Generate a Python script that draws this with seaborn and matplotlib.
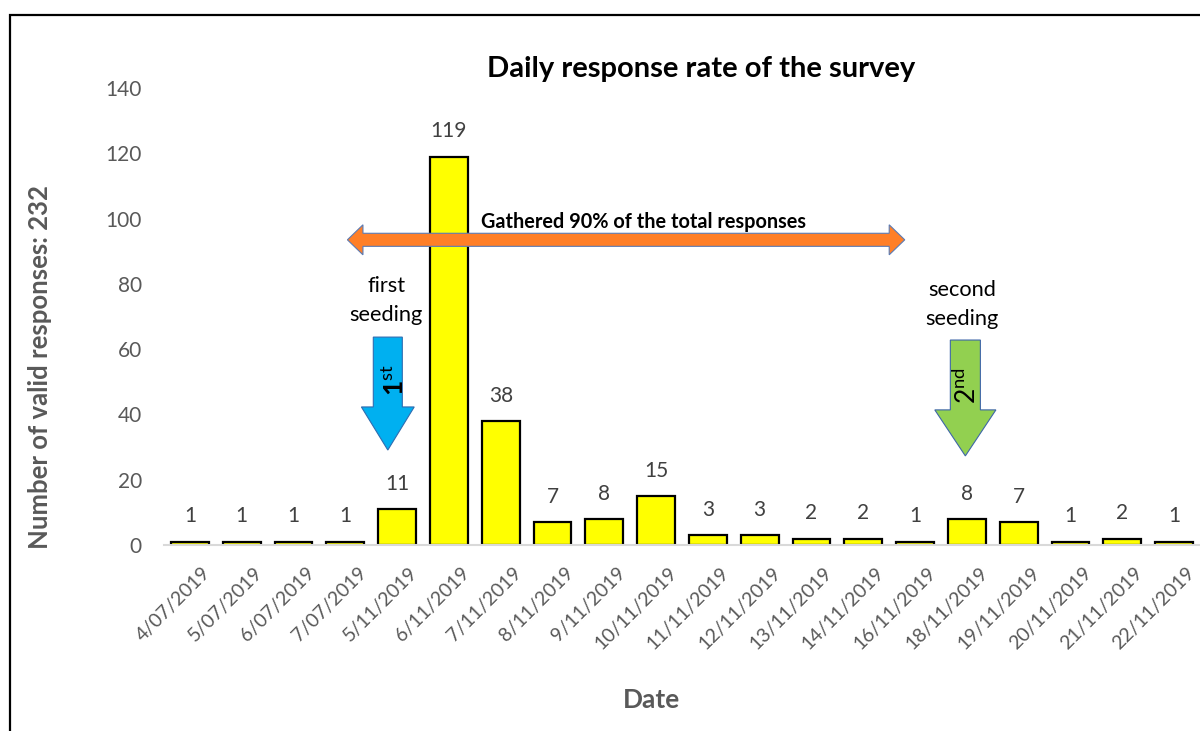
import matplotlib
matplotlib.use("Agg")
import matplotlib.pyplot as plt
import matplotlib.transforms as mtransforms
from matplotlib.patches import Polygon, FancyArrow, Rectangle
import seaborn as sns
import pandas as pd

# Survey responses per day
dates = ["4/07/2019", "5/07/2019", "6/07/2019", "7/07/2019", "5/11/2019",
         "6/11/2019", "7/11/2019", "8/11/2019", "9/11/2019", "10/11/2019",
         "11/11/2019", "12/11/2019", "13/11/2019", "14/11/2019", "16/11/2019",
         "18/11/2019", "19/11/2019", "20/11/2019", "21/11/2019", "22/11/2019"]
responses = [1, 1, 1, 1, 11, 119, 38, 7, 8, 15, 3, 3, 2, 2, 1, 8, 7, 1, 2, 1]
y_ticks = [0, 20, 40, 60, 80, 100, 120, 140]

df = pd.DataFrame({"Date": dates, "Responses": responses})

sns.set_theme(style="white")
plt.rcParams["font.family"] = ["Lato", "DejaVu Sans"]
plt.rcParams["mathtext.fontset"] = "custom"
plt.rcParams["mathtext.rm"] = "Lato"
plt.rcParams["mathtext.bf"] = "Lato:bold"

GREY = "#595959"

fig = plt.figure(figsize=(12, 7.31), dpi=100)
ax = fig.add_axes([0.1367, 0.2544, 0.8633, 0.6252])

sns.barplot(data=df, x="Date", y="Responses", ax=ax, color="#FFFF00",
            saturation=1, edgecolor="black", linewidth=1.6, width=0.73)

ax.set_ylim(0, 140)
ax.set_xlim(-0.5, len(dates) - 0.5)
ax.set_yticks(y_ticks)
ax.tick_params(axis="y", labelsize=15, labelcolor=GREY, length=0, pad=16)
ax.tick_params(axis="x", labelsize=14, labelcolor=GREY, length=0, pad=15)
shift = mtransforms.ScaledTranslation(0.12, 0.02, fig.dpi_scale_trans)
for lab in ax.get_xticklabels():
    lab.set_rotation(45)
    lab.set_ha("right")
    lab.set_va("top")
    lab.set_rotation_mode("anchor")
    lab.set_transform(lab.get_transform() + shift)

for side in ["top", "right", "left"]:
    ax.spines[side].set_visible(False)
ax.spines["bottom"].set_color("#D9D9D9")
ax.spines["bottom"].set_linewidth(1.5)

ax.bar_label(ax.containers[0], labels=[str(v) for v in responses],
             padding=11, fontsize=15, color="#404040")

ax.set_xlabel("Date", fontsize=19, fontweight="bold", color=GREY)
ax.xaxis.set_label_coords(0.471, -0.313)
ax.set_ylabel("Number of valid responses: 232", fontsize=18.5,
              fontweight="bold", color=GREY)
ax.yaxis.set_label_coords(-0.108, 0.39)
fig.text(0.5842, 0.905, "Daily response rate of the survey", ha="center",
         va="center", fontsize=21, fontweight="bold", color="black")

# Span covering most of the responses
x0, x1, yc = 3.04, 13.80, 93.5
bw, hw, hl = 2.0, 4.6, 0.30
pts = [(x0, yc), (x0 + hl, yc + hw), (x0 + hl, yc + bw), (x1 - hl, yc + bw),
       (x1 - hl, yc + hw), (x1, yc), (x1 - hl, yc - hw), (x1 - hl, yc - bw),
       (x0 + hl, yc - bw), (x0 + hl, yc - hw)]
ax.add_patch(Polygon(pts, closed=True, facecolor="#FF7F27",
                     edgecolor="#5B7BB4", linewidth=0.8, zorder=5))
ax.text(8.76, 99.0, "Gathered 90% of the total responses",
        ha="center", va="center", fontsize=14.3, fontweight="bold",
        color="black", zorder=6)

# Seeding markers
ax.add_patch(FancyArrow(3.82, 63.7, 0, -34.6, width=0.56, head_width=1.02,
                        head_length=13.2, length_includes_head=True,
                        facecolor="#00B0F0", edgecolor="#2F6CB0",
                        linewidth=0.8, zorder=5))
ax.text(3.95, 50.5, r"1$^{\mathrm{st}}$", rotation=90, ha="center",
        va="center", fontsize=19, fontweight="bold", color="black", zorder=6)
ax.text(3.79, 75.0, "first\nseeding", ha="center", va="center",
        fontsize=15.7, color="black", linespacing=1.55)

ax.add_patch(FancyArrow(14.97, 62.8, 0, -35.5, width=0.58, head_width=1.18,
                        head_length=14.1, length_includes_head=True,
                        facecolor="#92D050", edgecolor="#3E66A8",
                        linewidth=0.8, zorder=5))
ax.text(14.99, 49.0, r"2$^{\mathrm{nd}}$", rotation=90, ha="center",
        va="center", fontsize=19, color="black", zorder=6)
ax.text(14.91, 73.8, "second\nseeding", ha="center", va="center",
        fontsize=15.7, color="black", linespacing=1.55)

# Outer frame
fig.patches.append(Rectangle((10 / 1200, -0.05), 1.2, 0.9795 + 0.05,
                             transform=fig.transFigure, fill=False,
                             edgecolor="black", linewidth=1.6))

fig.savefig("out.png", dpi=100)
